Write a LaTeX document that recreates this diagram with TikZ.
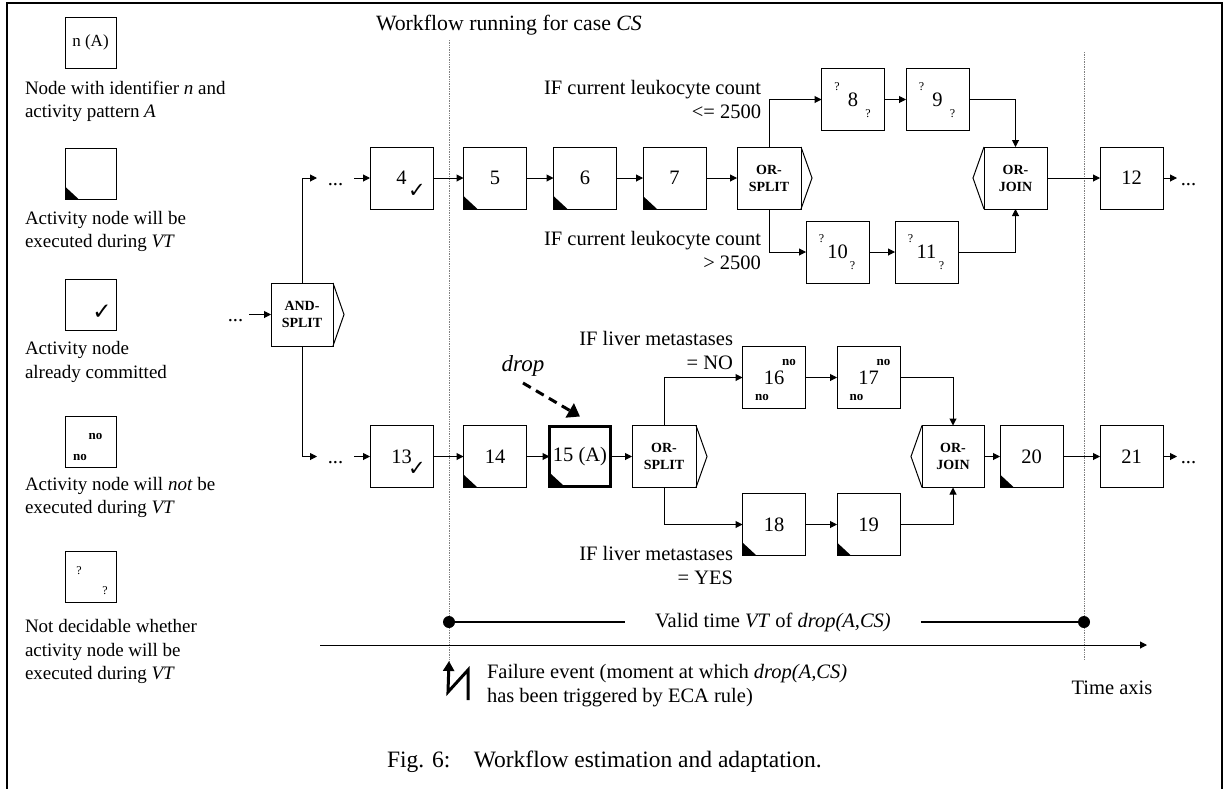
\documentclass[tikz,border=0pt]{standalone}
\usepackage{fontspec}
\setmainfont{Liberation Serif}
\newfontfamily\symf{DejaVu Sans}
\usetikzlibrary{arrows.meta}
\newcommand\ck{✓}
\begin{document}
\begin{tikzpicture}[x=1pt,y=-1pt,
  every node/.style={inner sep=0pt, outer sep=0pt},
  txt/.style={font=\fontsize{20.5}{24}\selectfont},
  ltxt/.style={font=\fontsize{19}{23.5}\selectfont, align=left, anchor=west},
  box/.style={draw, line width=1pt, minimum width=63pt, minimum height=62pt, font=\fontsize{20.5}{24}\selectfont},
  lbox/.style={draw, line width=1pt, minimum width=51pt, minimum height=51pt},
  gate/.style={draw, line width=1pt, minimum width=63pt, minimum height=62pt, align=center, font=\fontsize{14}{17}\selectfont\bfseries},
  arr/.style={line width=1pt, -{Triangle[length=7pt,width=7pt]}},
  qm/.style={font=\fontsize{12}{12}\selectfont},
  nom/.style={font=\fontsize{13}{13}\selectfont\bfseries},
  ckm/.style={font=\fontsize{21}{21}\symf},
  dots/.style={font=\fontsize{20.5}{24}\selectfont, text height=15pt, text depth=1pt},
  undec/.style={label={[qm,xshift=-16pt,yshift=13pt]center:?}, label={[qm,xshift=15pt,yshift=-14pt]center:?}},
  notex/.style={label={[nom,xshift=15pt,yshift=15.5pt]center:no}, label={[nom,xshift=-12pt,yshift=-19.5pt]center:no}},
  done/.style={label={[ckm,xshift=15.5pt,yshift=-12.5pt]center:\ck}},
  vline/.style={gray, densely dotted, line width=0.7pt},
]
\useasboundingbox (0,0) rectangle (1224,788);
% frame
\draw[line width=2.5pt] (7,792) -- (7,3) -- (1222,3) -- (1222,792);

% legend
\node[lbox, font=\fontsize{17}{17}\selectfont] (L1) at (90.5,42.5) {n (A)};
\node[ltxt] (lt1) at (25,101.5) {Node with identifier \textit{n} and\\activity pattern \textit{A}};
\node[lbox] (L2) at (90.5,174) {};
\node[ltxt] (lt2) at (25,231.5) {Activity node will be\\executed during \textit{VT}};
\node[lbox, label={[font=\fontsize{23}{23}\symf,xshift=11.5pt,yshift=-7pt]center:\ck}] (L3) at (90.5,305) {};
\node[ltxt] (lt3) at (25,362) {Activity node\\already committed};
\node[lbox, label={[nom,xshift=5pt,yshift=5.5pt]center:no}, label={[nom,xshift=-10.5pt,yshift=-15.5pt]center:no}] (L4) at (90.5,441.5) {};
\node[ltxt] (lt4) at (25,497.5) {Activity node will \textit{not} be\\executed during \textit{VT}};
\node[lbox, label={[qm,xshift=-11.5pt,yshift=6pt]center:?}, label={[qm,xshift=14.5pt,yshift=-14pt]center:?}] (L5) at (90.5,577) {};
\node[ltxt] (lt5) at (25,651.5) {Not decidable whether\\activity node will be\\executed during \textit{VT}};

% header
\node[font=\fontsize{21.8}{24}\selectfont, anchor=west] (hdr) at (376,25) {Workflow running for case \textit{CS}};

% dotted time marks
\coordinate (ft) at (449,661);
\draw[vline] (449,40) -- (ft);
\draw[vline] (1084,52) -- (1084,660);

% AND split
\node[dots, minimum width=27pt] (d0) at (235.5,314.5) {...};
\node[gate, minimum width=62pt, minimum height=63pt] (and) at (302,314.5) {AND-\\SPLIT};
\node[dots, minimum width=37pt] (dT) at (335.5,178) {...};
\node[dots, minimum width=37pt] (dB) at (335.5,456.5) {...};

% top branch
\node[box, done] (n4) at (401.5,178) {4};
\node[box] (n5) at (495,178) {5};
\node[box] (n6) at (585,178) {6};
\node[box] (n7) at (674.5,178) {7};
\node[gate, minimum width=64pt] (os1) at (769,178) {OR-\\SPLIT};
\node[box, undec] (n8) at (853,99.5) {8};
\node[box, undec] (n9) at (937.5,99.5) {9};
\node[box, undec] (n10) at (837.5,252) {10};
\node[box, undec] (n11) at (926.5,252) {11};
\node[gate] (oj1) at (1015.5,178) {OR-\\JOIN};
\node[box] (n12) at (1131.5,178) {12};
\node[dots, minimum width=23pt] (d12) at (1188.5,178) {...};

% bottom branch
\node[box, done] (n13) at (401.5,456.5) {13};
\node[box] (n14) at (495,456.5) {14};
\node[box, line width=3pt, minimum width=61pt, minimum height=60pt] (n15) at (580,456.5) {15 (A)};
\node[gate, minimum width=64pt] (os2) at (664,456.5) {OR-\\SPLIT};
\node[box, notex] (n16) at (774,377.5) {16};
\node[box, notex] (n17) at (868.5,377.5) {17};
\node[box] (n18) at (774,524.5) {18};
\node[box] (n19) at (868.5,524.5) {19};
\node[gate, minimum width=62pt] (oj2) at (953,456.5) {OR-\\JOIN};
\node[box] (n20) at (1031.5,456.5) {20};
\node[box] (n21) at (1131.5,456.5) {21};
\node[dots, minimum width=23pt] (d21) at (1188.5,456.5) {...};

% chevrons
\foreach \g in {and,os1,os2}
  \draw[line width=1pt] (\g.north east) -- ([xshift=11pt]\g.east) -- (\g.south east);
\foreach \g in {oj1,oj2}
  \draw[line width=1pt] (\g.north west) -- ([xshift=-11pt]\g.west) -- (\g.south west);

% execution marks
\foreach \b in {L2,n5,n6,n7,n14,n18,n19,n20}
  \fill (\b.south west) -- ([yshift=13pt]\b.south west) -- ([xshift=14pt]\b.south west) -- cycle;
\fill ([xshift=1pt,yshift=1pt]n15.south west) -- ([xshift=1pt,yshift=13pt]n15.south west) -- ([xshift=14pt,yshift=1pt]n15.south west) -- cycle;

% connectors
\draw[arr] (d0) -- (and);
\draw[arr] (and.north) |- (dT.west);
\draw[arr] (and.south) |- (dB.west);
\draw[arr] (dT) -- (n4);
\draw[arr] (n4) -- (n5);
\draw[arr] (n5) -- (n6);
\draw[arr] (n6) -- (n7);
\draw[arr] (n7) -- (os1);
\draw[arr] (os1.north) |- (n8.west);
\draw[arr] (n8) -- (n9);
\draw[arr] (n9.east) -| (oj1.north);
\draw[arr] (os1.south) |- (n10.west);
\draw[arr] (n10) -- (n11);
\draw[arr] (n11.east) -| (oj1.south);
\draw[arr] (oj1) -- (n12);
\draw[arr] (n12) -- (d12);
\draw[arr] (dB) -- (n13);
\draw[arr] (n13) -- (n14);
\draw[arr] (n14) -- (n15);
\draw[arr] (n15) -- (os2);
\draw[arr] (os2.north) |- (n16.west);
\draw[arr] (n16) -- (n17);
\draw[arr] (n17.east) -| (oj2.north);
\draw[arr] (os2.south) |- (n18.west);
\draw[arr] (n18) -- (n19);
\draw[arr] (n19.east) -| (oj2.south);
\draw[arr] (oj2) -- (n20);
\draw[arr] (n20) -- (n21);
\draw[arr] (n21) -- (d21);

% branch conditions
\node[txt, align=right, anchor=east] (c1) at (761,99.5) {IF current leukocyte count\\<= 2500};
\node[txt, align=right, anchor=east] (c2) at (761,250) {IF current leukocyte count\\> 2500};
\node[txt, align=right, anchor=east] (c3) at (733,350.5) {IF liver metastases\\= NO};
\node[txt, align=right, anchor=east] (c4) at (733,565.5) {IF liver metastases\\= YES};

% drop
\node[font=\fontsize{23}{26}\selectfont\itshape] (drop) at (523,366) {drop};
\draw[line width=3pt, dash pattern=on 9pt off 6pt, -{Triangle[length=12pt,width=16pt]}] ([yshift=-17pt]drop.center) -- ([yshift=10pt]n15.north);

% valid time
\node[circle, fill, minimum size=12pt] (vtl) at (449,622) {};
\node[circle, fill, minimum size=12pt] (vtr) at (1084,622) {};
\node[txt, inner xsep=30pt] (vt) at (773,622) {Valid time \textit{VT} of \textit{drop(A,CS)}};
\draw[line width=2.5pt] (vtl.center) -- (vt.west);
\draw[line width=2.5pt] (vt.east) -- (vtr.center);

% time axis
\coordinate (ta0) at (320,645);
\coordinate (ta1) at (1147,645);
\draw[arr] (ta0) -- (ta1);
\node[txt] (tax) at (1112,688) {Time axis};

% failure event
\draw[line width=3pt, -{Triangle[length=10pt,width=11pt]}] (468,700) -- (468,670) -- (448,692) -- (ft);
\node[txt, align=left, anchor=west] (fe) at (487,686) {Failure event (moment at which \textit{drop(A,CS)}\\has been triggered by ECA rule)};

% caption
\node[font=\fontsize{23.5}{28}\selectfont, anchor=west] (cap) at (387,762) {Fig. 6:\hspace{23.5pt}Workflow estimation and adaptation.};
\end{tikzpicture}
\end{document}
